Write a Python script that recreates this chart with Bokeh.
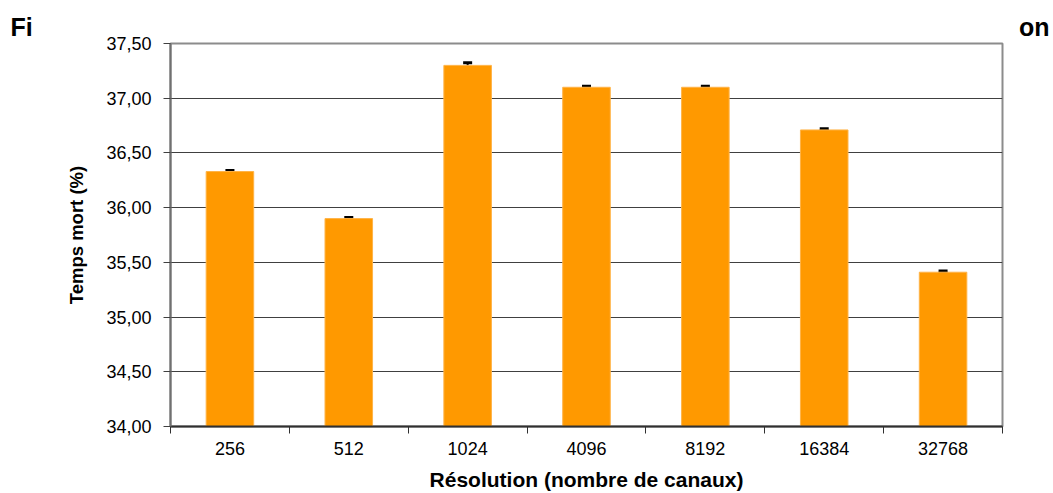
from bokeh.plotting import figure
from bokeh.models import ColumnDataSource, FixedTicker, Whisker, TeeHead, Range1d, Title
from bokeh.embed import file_html
from bokeh.resources import INLINE

categories = ["256", "512", "1024", "4096", "8192", "16384", "32768"]
temps_mort = [36.33, 35.90, 37.30, 37.10, 37.10, 36.71, 35.41]
erreur = [0.01, 0.01, 0.025, 0.01, 0.01, 0.01, 0.01]
y_ticks = [34.0, 34.5, 35.0, 35.5, 36.0, 36.5, 37.0, 37.5]
y_tick_labels = ["34,00", "34,50", "35,00", "35,50", "36,00", "36,50", "37,00", "37,50"]
# the reference title is hidden behind the chart: only its ends are visible
title_text = "Fi" + "\u00a0" * 142 + "on"

xs = list(range(len(categories)))
src = ColumnDataSource(dict(
    x=xs, top=temps_mort,
    upper=[v + e for v, e in zip(temps_mort, erreur)],
    lower=[v - e for v, e in zip(temps_mort, erreur)],
))

FONT = "Liberation Sans"

p = figure(width=1053, height=493, output_backend="svg", toolbar_location=None,
           x_range=Range1d(-0.5, len(categories) - 0.5), y_range=Range1d(34.0, 37.5),
           min_border_left=170, min_border_right=51, min_border_top=43, min_border_bottom=67)
p.background_fill_color = "white"
p.border_fill_color = "white"
p.outline_line_color = "#8c8c8c"
p.outline_line_width = 2

p.vbar(x="x", top="top", bottom=34.0, width=0.4, source=src,
       fill_color="#FF9900", line_color="#FFB347", line_width=1)

w = Whisker(source=src, base="x", upper="upper", lower="lower",
            line_color="black", line_width=2,
            upper_head=TeeHead(size=9, line_color="black", line_width=3),
            lower_head=TeeHead(size=9, line_color="black", line_width=3))
p.add_layout(w)

# y axis
p.yaxis.ticker = FixedTicker(ticks=y_ticks)
p.yaxis.major_label_overrides = {t: l for t, l in zip(y_ticks, y_tick_labels)}
p.yaxis.major_tick_out = 7
p.yaxis.major_tick_in = 0
p.yaxis.minor_tick_line_color = None
p.yaxis.major_tick_line_color = "#404040"
p.yaxis.axis_line_color = "#707070"
p.yaxis.axis_line_width = 2
p.yaxis.major_label_standoff = 12
p.yaxis.major_label_text_font = FONT
p.yaxis.major_label_text_font_size = "18px"
p.yaxis.major_label_text_color = "black"
p.yaxis.axis_label = "Temps mort (%)"
p.yaxis.axis_label_text_font = FONT
p.yaxis.axis_label_text_font_size = "18.5px"
p.yaxis.axis_label_text_font_style = "bold"
p.yaxis.axis_label_text_color = "black"
p.yaxis.axis_label_standoff = 16

# x axis
p.xaxis.ticker = FixedTicker(ticks=xs, minor_ticks=[i - 0.5 for i in range(len(categories) + 1)])
p.xaxis.major_label_overrides = {i: c for i, c in zip(xs, categories)}
p.xaxis.major_tick_out = 0
p.xaxis.major_tick_in = 0
p.xaxis.minor_tick_out = 7
p.xaxis.minor_tick_in = 0
p.xaxis.minor_tick_line_color = "#303030"
p.xaxis.minor_tick_line_width = 1
p.xaxis.axis_line_color = "#303030"
p.xaxis.axis_line_width = 2
p.xaxis.major_label_standoff = 8
p.xaxis.major_label_text_font = FONT
p.xaxis.major_label_text_font_size = "18px"
p.xaxis.major_label_text_color = "black"
p.xaxis.axis_label = "Résolution (nombre de canaux)"
p.xaxis.axis_label_text_font = FONT
p.xaxis.axis_label_text_font_size = "21px"
p.xaxis.axis_label_text_font_style = "bold"
p.xaxis.axis_label_text_color = "black"
p.xaxis.axis_label_standoff = 10

p.xgrid.grid_line_color = None
p.ygrid.ticker = FixedTicker(ticks=y_ticks)
p.ygrid.grid_line_color = "#404040"
p.ygrid.grid_line_width = 1

p.add_layout(Title(text=title_text, align="left", offset=-160, standoff=6,
                   text_font=FONT, text_font_size="25px", text_font_style="bold",
                   text_color="black"), "above")

open("out.html", "w").write(file_html(p, INLINE))
